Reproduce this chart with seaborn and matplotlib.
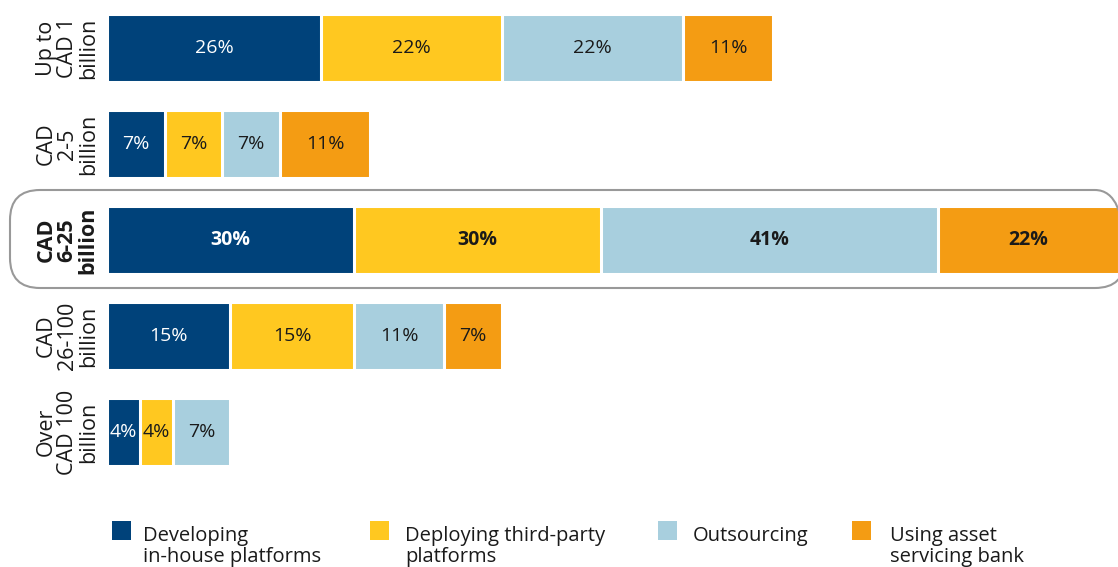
import numpy as np
import pandas as pd
import matplotlib
matplotlib.use("Agg")
import matplotlib.pyplot as plt
import matplotlib.transforms as mtransforms
from matplotlib.patches import FancyBboxPatch, Rectangle
import seaborn as sns

# Asset size bands (y-axis) and the share choosing each approach (%)
categories = ["Up to\nCAD 1\nbillion", "CAD\n2-5\nbillion", "CAD\n6-25\nbillion",
              "CAD\n26-100\nbillion", "Over\nCAD 100\nbillion"]
series_names = ["Developing\nin-house platforms", "Deploying third-party\nplatforms",
                "Outsourcing", "Using asset\nservicing bank"]
developing = [26, 7, 30, 15, 4]
deploying = [22, 7, 30, 15, 4]
outsourcing = [22, 7, 41, 11, 7]
asset_bank = [11, 11, 22, 7, 0]
highlight_row = 2

colors = ["#00427A", "#FFC820", "#A8CFDE", "#F49C13"]
text_colors = ["white", "#1A1A1A", "#1A1A1A", "#1A1A1A"]

sns.set_theme(style="white")
plt.rcParams["font.family"] = ["Open Sans", "DejaVu Sans"]

values = np.array([developing, deploying, outsourcing, asset_bank], dtype=float)
cum = np.cumsum(values, axis=0)

fig = plt.figure(figsize=(11.18, 5.67), dpi=100)
W, H = 1118, 567
ax = fig.add_axes([107 / W, (H - 480) / H, 1 - 107 / W, 480 / H])

# Stacked bars: draw cumulative totals from the widest down so each segment shows
for k in range(len(series_names) - 1, -1, -1):
    df = pd.DataFrame({"band": categories, "cum": cum[k]})
    sns.barplot(data=df, x="cum", y="band", orient="h", color=colors[k],
                saturation=1, width=0.7, edgecolor="white", linewidth=2.2,
                ax=ax, order=categories)

# Value labels centred in each segment
for k in range(len(series_names)):
    for i in range(len(categories)):
        v = values[k, i]
        if v <= 0:
            continue
        xc = cum[k, i] - v / 2
        ax.text(xc, i, f"{int(v)}%", ha="center", va="center", fontsize=14,
                color=text_colors[k],
                fontweight="bold" if i == highlight_row else "normal")

ax.set_xlim(0, 122.9)
ax.set_ylim(4.5, -0.5)
ax.set_xlabel("")
ax.set_ylabel("")
ax.set_xticks([])
for s in ax.spines.values():
    s.set_visible(False)
ax.set_yticks(range(len(categories)))
ax.set_yticklabels(categories, rotation=90, va="center", ha="right",
                   multialignment="center", fontsize=15.5, linespacing=1.0,
                   color="#1A1A1A")
ax.tick_params(axis="y", length=0, pad=6)
ax.get_yticklabels()[highlight_row].set_fontweight("bold")

# Rounded frame around the highlighted band
px = mtransforms.IdentityTransform()
frame = FancyBboxPatch((10, H - 288), 1125 - 10, 288 - 190,
                       boxstyle="round,pad=0,rounding_size=30",
                       transform=px, facecolor="none", edgecolor="#999999",
                       linewidth=1.5, zorder=0)
fig.patches.append(frame)

# Legend along the bottom
legend_sq_x = [112, 370, 658, 852]
legend_txt_x = [143, 405, 693, 890]
for k, name in enumerate(series_names):
    fig.patches.append(Rectangle((legend_sq_x[k], H - 540), 19, 19, transform=px,
                                 facecolor=colors[k], edgecolor="none"))
    for j, line in enumerate(name.split("\n")):
        fig.text(legend_txt_x[k] / W, (H - 541 - 21 * j) / H, line,
                 ha="left", va="baseline", fontsize=14.5, color="#1A1A1A")

fig.savefig("out.png", dpi=100)
